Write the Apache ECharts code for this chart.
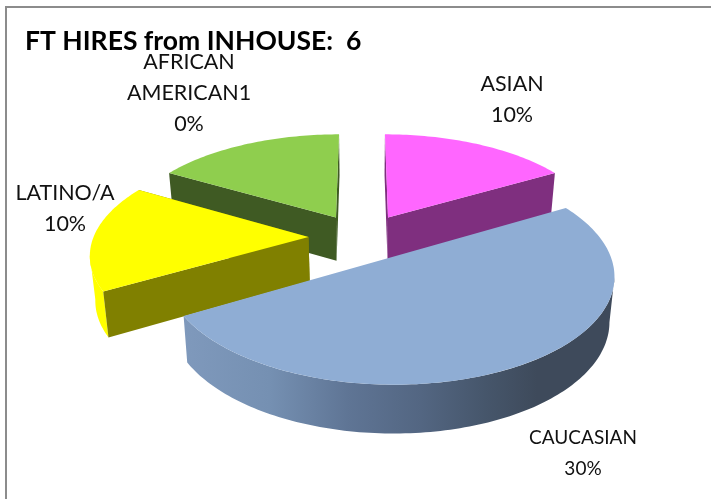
<!DOCTYPE html>
<html>
<head>
<meta charset="utf-8">
<style>html,body{margin:0;padding:0;background:#fff}#chart{width:711px;height:499px}</style>
<script src="https://cdn.jsdelivr.net/npm/echarts@6/dist/echarts.min.js"></script>
</head>
<body>
<div id="chart"></div>
<script>
// Head counts per group, clockwise from twelve o'clock
const categories = ['ASIAN', 'CAUCASIAN', 'LATINO/A', 'AFRICAN\nAMERICAN1'];
const hireCounts = [1, 3, 1, 1];
const percentLabels = ['10%', '30%', '10%', '0%'];
const chartTitle = 'FT HIRES from INHOUSE:  6';

// Face colours per slice; a null cut colour means that slice's cut faces stay hidden
const topColors = ['#ff66ff', '#8fadd4', '#ffff00', '#8fce4e'];
const cutColors = ['#7f2f7f', null, '#808000', '#3f5a23'];
const wallColors = ['#7f2f7f', null, '#ffff00', '#3f5a23'];
const caucasianWall = [
  [0, '#7f99bc'], [0.2, '#7590b2'], [0.38, '#5f7595'], [0.55, '#536682'],
  [0.7, '#46566b'], [0.82, '#3e4a5b'], [1, '#3e4a5b']
];

// Paint order back to front, and per-slice layout
const paintOrder = [2, 4, 3, 1];
const explode = [0.23, 0.23, 0.23, 0.23];
const nudgeX = [0, 0, -6, -4];
const labelAnchors = [[512, 100], [583, 453], [65, 209], [189, 93]];
const labelSizes = [21.5, 19, 21.5, 21.5];

// Perspective disc: unit radius, tilted away from the viewer
const view = { cx: 364, cy: 237, a: 215, b: 101, k: 0.15 };
// Part of the rim that faces the viewer, in radians clockwise from twelve o'clock
const rimFacing = [100 * Math.PI / 180, 260 * Math.PI / 180];

function project(X, Y, nudge, lowered) {
  const s = 1 / (1 + view.k * Y);
  let x = view.cx + view.a * X * s + nudge;
  let y = view.cy - view.b * Y * s;
  if (lowered) {
    x = view.cx + (x - view.cx) * 0.98;
    y += 22 + 22 * s;
  }
  return [x, y];
}

function renderSlice(params, api) {
  const i = params.dataIndex;
  const total = hireCounts.reduce((p, v) => p + v, 0);
  const before = hireCounts.slice(0, i).reduce((p, v) => p + v, 0);
  const start = before / total * Math.PI * 2;
  const end = (before + api.value(0)) / total * Math.PI * 2;
  const mid = (start + end) / 2;
  const ox = Math.sin(mid) * explode[i];
  const oy = Math.cos(mid) * explode[i];
  const pt = (t, lowered) => project(ox + Math.sin(t), oy + Math.cos(t), nudgeX[i], lowered);
  const apex = lowered => project(ox, oy, nudgeX[i], lowered);

  const arc = (from, to, lowered) => {
    const pts = [];
    const n = Math.ceil((to - from) / 0.02);
    for (let j = 0; j <= n; j++) pts.push(pt(from + (to - from) * j / n, lowered));
    return pts;
  };
  const z2 = paintOrder[i] * 10;
  const poly = (points, fill, z) => ({
    type: 'polygon',
    z2: z2 + z,
    shape: { points },
    style: { fill, lineWidth: 0 }
  });

  const wallFill = wallColors[i] ||
    new echarts.graphic.LinearGradient(0, 0, 1, 0,
      caucasianWall.map(s => ({ offset: s[0], color: s[1] })));

  const children = [];
  const wallFrom = Math.max(start, rimFacing[0]);
  const wallTo = Math.min(end, rimFacing[1]);
  if (wallTo > wallFrom) {
    children.push(poly(arc(wallFrom, wallTo, false).concat(arc(wallFrom, wallTo, true).reverse()), wallFill, 0));
  }
  if (cutColors[i]) {
    children.push(poly([apex(false), pt(end, false), pt(end, true), apex(true)], cutColors[i], 1));
    children.push(poly([apex(false), pt(start, false), pt(start, true), apex(true)], cutColors[i], 2));
  }
  children.push(poly([apex(false)].concat(arc(start, end, false)), topColors[i], 3));
  children.push({
    type: 'text',
    z2: 100,
    style: {
      text: categories[i] + '\n' + percentLabels[i],
      x: labelAnchors[i][0],
      y: labelAnchors[i][1],
      align: 'center',
      verticalAlign: 'middle',
      fontFamily: 'Lato',
      fontSize: labelSizes[i],
      lineHeight: 31,
      fill: '#111111'
    }
  });
  return { type: 'group', children };
}

const chart = echarts.init(document.getElementById('chart'), null, { renderer: 'canvas' });
chart.setOption({
  animation: false,
  backgroundColor: '#ffffff',
  title: {
    text: chartTitle,
    left: 20,
    top: 23,
    textStyle: { fontFamily: 'Lato', fontWeight: 'bold', fontSize: 26.5, color: '#000000' }
  },
  graphic: [{
    type: 'rect',
    z: -1,
    shape: { x: 6, y: 7, width: 800, height: 600 },
    style: { fill: 'none', stroke: '#8c8c8c', lineWidth: 2 }
  }],
  series: [{
    type: 'custom',
    coordinateSystem: 'none',
    renderItem: renderSlice,
    data: hireCounts,
    silent: true
  }]
});
</script>
</body>
</html>
